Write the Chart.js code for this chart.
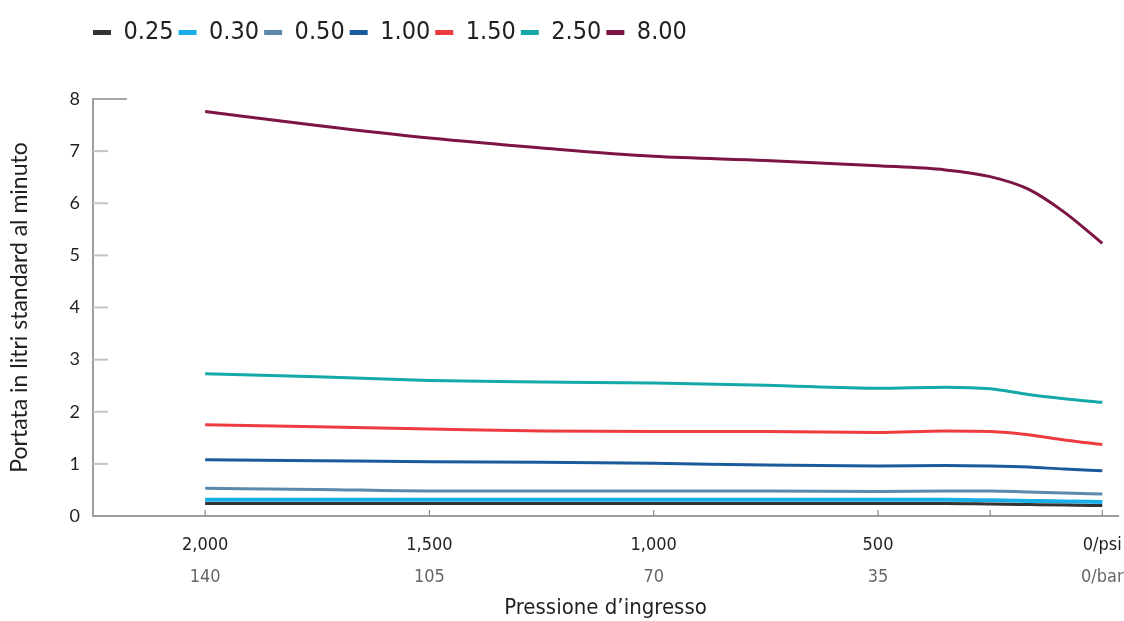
<!DOCTYPE html>
<html>
<head>
<meta charset="utf-8">
<script src="https://cdn.jsdelivr.net/npm/chart.js@4.4.1/dist/chart.umd.min.js"></script>
<style>
  html, body { margin: 0; padding: 0; background: #fff; }
  #wrap { width: 1124px; height: 621px; }
</style>
</head>
<body>
<div id="wrap"><canvas id="flowChart"></canvas></div>
<script>
// inlet pressure in psi
const pressurePsi = [2000, 1750, 1500, 1250, 1000, 750, 500, 350, 250, 165, 85, 0];

const flow025 = [0.24, 0.24, 0.24, 0.24, 0.24, 0.24, 0.24, 0.24, 0.23, 0.22, 0.21, 0.20];
const flow030 = [0.31, 0.31, 0.31, 0.31, 0.31, 0.31, 0.31, 0.31, 0.30, 0.29, 0.28, 0.27];
const flow050 = [0.53, 0.51, 0.48, 0.48, 0.48, 0.48, 0.47, 0.48, 0.48, 0.46, 0.44, 0.42];
const flow100 = [1.08, 1.06, 1.04, 1.03, 1.01, 0.98, 0.96, 0.97, 0.96, 0.94, 0.90, 0.87];
const flow150 = [1.75, 1.71, 1.67, 1.63, 1.62, 1.62, 1.60, 1.63, 1.62, 1.56, 1.46, 1.37];
const flow250 = [2.73, 2.67, 2.60, 2.57, 2.55, 2.51, 2.45, 2.47, 2.44, 2.33, 2.25, 2.18];
const flow800 = [7.76, 7.49, 7.25, 7.06, 6.90, 6.82, 6.72, 6.64, 6.51, 6.27, 5.83, 5.23];

const seriesNames = ['0.25', '0.30', '0.50', '1.00', '1.50', '2.50', '8.00'];
const seriesValues = [flow025, flow030, flow050, flow100, flow150, flow250, flow800];
const seriesColors = ['#333333', '#1aaee8', '#5b89ab', '#1b5b9c', '#ee3b3f', '#14a9a8', '#7d1446'];

const psiTicks = [2000, 1500, 1000, 500, 0];
const psiLabels = ['2,000', '1,500', '1,000', '500', '0/psi'];
const barLabels = ['140', '105', '70', '35', '0/bar'];
const psiTickMarks = [2000, 1500, 1000, 500, 250, 0];
const flowTicks = [0, 1, 2, 3, 4, 5, 6, 7, 8];

const narrow = "'Liberation Sans Narrow', 'DejaVu Sans Condensed', sans-serif";
const plain = "Lato, 'Open Sans', sans-serif";
const legendPad = 5;

// gap under the legend and legend start aligned to the y axis
const legendSpacing = {
  id: 'legendSpacing',
  beforeInit(chart) {
    const fit = chart.legend.fit;
    chart.legend.fit = function () {
      fit.bind(chart.legend)();
      this.height += 44;
    };
  },
  afterLayout(chart) {
    chart.legend.left = chart.chartArea.left - legendPad;
  }
};

// short tick marks pointing into the plot
const innerTicks = {
  id: 'innerTicks',
  beforeDatasetsDraw(chart) {
    const { ctx, scales: { x, y } } = chart;
    ctx.save();
    ctx.lineWidth = 2;
    flowTicks.forEach((v) => {
      if (v === 0) return;
      const py = y.getPixelForValue(v);
      ctx.strokeStyle = v === 8 ? '#a5a5a5' : '#c4c4c4';
      ctx.beginPath();
      ctx.moveTo(x.left, py);
      ctx.lineTo(x.left + (v === 8 ? 34 : 15), py);
      ctx.stroke();
    });
    ctx.lineWidth = 1.2;
    ctx.strokeStyle = '#8a8a8a';
    psiTickMarks.forEach((p) => {
      const px = x.getPixelForValue(p);
      ctx.beginPath();
      ctx.moveTo(px, y.bottom);
      ctx.lineTo(px, y.bottom - 6);
      ctx.stroke();
    });
    ctx.restore();
  }
};

new Chart(document.getElementById('flowChart'), {
  type: 'line',
  data: {
    datasets: seriesNames.map((name, i) => ({
      label: name,
      data: pressurePsi.map((p, j) => ({ x: p, y: seriesValues[i][j] })),
      borderColor: seriesColors[i],
      backgroundColor: seriesColors[i],
      borderWidth: i === 1 ? 4 : 3,
      pointRadius: 0,
      cubicInterpolationMode: 'monotone',
      fill: false
    }))
  },
  options: {
    responsive: true,
    maintainAspectRatio: false,
    animation: false,
    layout: { padding: { top: 15, right: 6, left: 0, bottom: 0 } },
    plugins: {
      tooltip: { enabled: false },
      legend: {
        position: 'top',
        align: 'start',
        onClick: null,
        labels: {
          usePointStyle: true,
          pointStyle: 'line',
          pointStyleWidth: 18,
          padding: legendPad,
          color: '#231f20',
          font: { family: narrow, size: 25 },
          generateLabels(chart) {
            return Chart.defaults.plugins.legend.labels.generateLabels(chart).map((l) => ({ ...l, lineWidth: 5 }));
          }
        }
      }
    },
    scales: {
      x: {
        type: 'linear',
        reverse: true,
        min: -35,
        max: 2250,
        position: 'bottom',
        grid: { display: false, drawTicks: false },
        border: { display: true, color: '#9d9d9d', width: 2 },
        afterBuildTicks: (s) => { s.ticks = psiTicks.map((v) => ({ value: v })); },
        afterFit: (s) => { s.height = 42; s.paddingLeft = 0; s.paddingRight = 0; },
        ticks: {
          padding: 19,
          color: '#231f20',
          autoSkip: false,
          maxRotation: 0,
          font: { family: narrow, size: 18 },
          callback: (v, i) => psiLabels[i]
        }
      },
      x2: {
        type: 'linear',
        reverse: true,
        min: -35,
        max: 2250,
        position: 'bottom',
        grid: { display: false, drawTicks: false },
        border: { display: false },
        afterBuildTicks: (s) => { s.ticks = psiTicks.map((v) => ({ value: v })); },
        afterFit: (s) => { s.height = 63; s.paddingLeft = 0; s.paddingRight = 0; },
        ticks: {
          padding: 9,
          color: '#666666',
          autoSkip: false,
          maxRotation: 0,
          font: { family: narrow, size: 18 },
          callback: (v, i) => barLabels[i]
        },
        title: {
          display: true,
          text: 'Pressione d’ingresso',
          color: '#231f20',
          font: { family: narrow, size: 22 },
          padding: { top: 6, bottom: 0 }
        }
      },
      y: {
        min: 0,
        max: 8,
        grid: { display: false, drawTicks: false },
        border: { display: true, color: '#9d9d9d', width: 2 },
        afterBuildTicks: (s) => { s.ticks = flowTicks.map((v) => ({ value: v })); },
        afterFit: (s) => { s.width = 93; },
        ticks: {
          padding: 13,
          color: '#231f20',
          font: { family: plain, size: 18 }
        },
        title: {
          display: true,
          text: 'Portata in litri standard al minuto',
          color: '#231f20',
          font: { family: plain, size: 23 },
          padding: { top: 6, bottom: 0 }
        }
      }
    }
  },
  plugins: [legendSpacing, innerTicks]
});
</script>
</body>
</html>
